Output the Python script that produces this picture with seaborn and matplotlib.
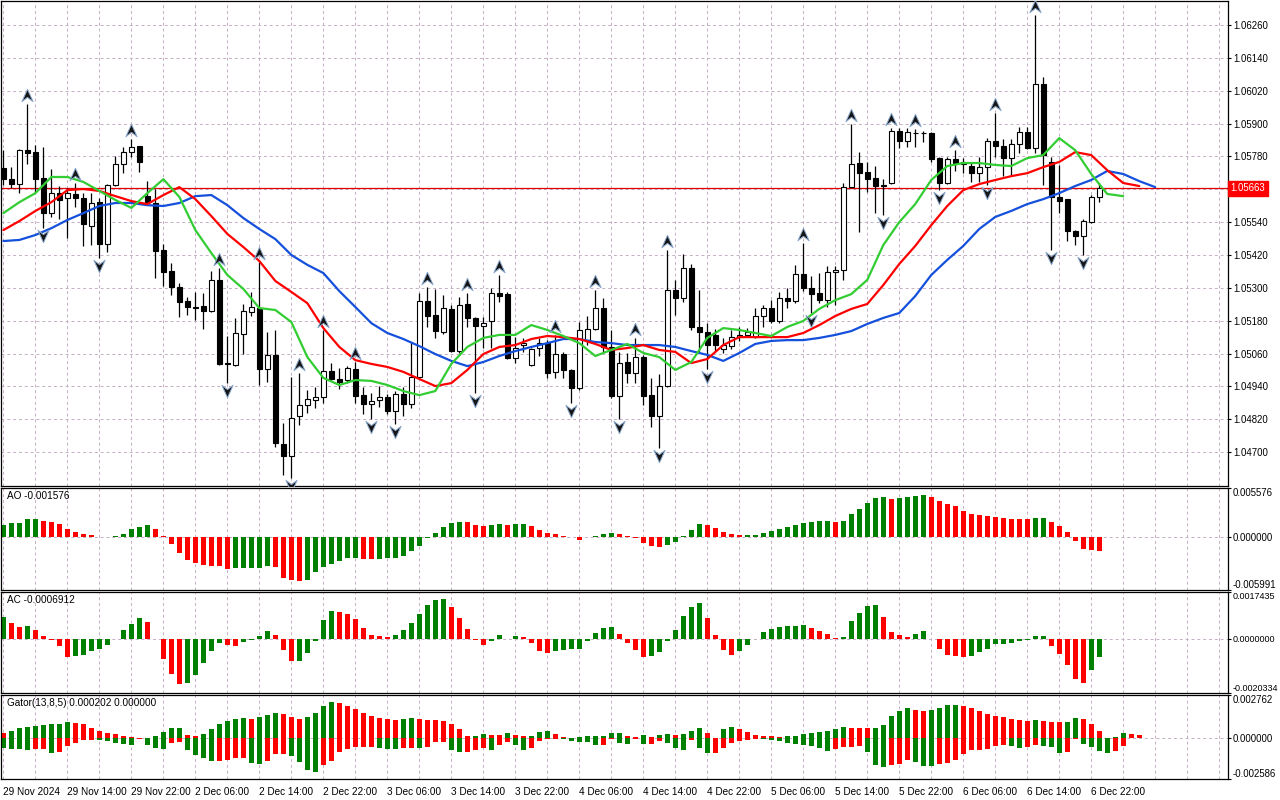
import numpy as np
import pandas as pd
import matplotlib
matplotlib.use("Agg")
import matplotlib.pyplot as plt
from matplotlib.path import Path
import seaborn as sns

# EURUSD H1, 29 Nov 06:00 -> 6 Dec 23:00 (2024)
opens = [1.05738, 1.05697, 1.05679, 1.05803, 1.05796, 1.05701, 1.05573, 1.05646, 1.05628, 1.05643,
         1.05628, 1.05526, 1.05613, 1.05460, 1.05676, 1.05752, 1.05796, 1.05818, 1.05635, 1.05610,
         1.05438, 1.05361, 1.05303, 1.05252, 1.05230, 1.05233, 1.05215, 1.05328, 1.05025, 1.05018,
         1.05131, 1.05212, 1.05226, 1.05003, 1.05055, 1.04729, 1.04686, 1.04832, 1.04872, 1.04890,
         1.04901, 1.04996, 1.04967, 1.04963, 1.05003, 1.04908, 1.04876, 1.04890, 1.04901, 1.04850,
         1.04912, 1.04876, 1.04974, 1.05252, 1.05201, 1.05138, 1.05223, 1.05069, 1.05241, 1.05190,
         1.05160, 1.05179, 1.05281, 1.05277, 1.05044, 1.05091, 1.05018, 1.05080, 1.05098, 1.04992,
         1.05058, 1.05000, 1.04934, 1.05109, 1.05150, 1.05226, 1.05084, 1.04905, 1.05029, 1.04989,
         1.05047, 1.04908, 1.04832, 1.04941, 1.05292, 1.05263, 1.05372, 1.05157, 1.05138, 1.05128,
         1.05076, 1.05087, 1.05120, 1.05128, 1.05120, 1.05197, 1.05226, 1.05179, 1.05263, 1.05252,
         1.05350, 1.05299, 1.05281, 1.05255, 1.05358, 1.05365, 1.05668, 1.05756, 1.05723, 1.05701,
         1.05676, 1.05683, 1.05873, 1.05836, 1.05866, 1.05866, 1.05866, 1.05774, 1.05683, 1.05771,
         1.05760, 1.05745, 1.05719, 1.05741, 1.05836, 1.05818, 1.05774, 1.05825, 1.05869, 1.05811,
         1.06044, 1.05760, 1.05632, 1.05624, 1.05508, 1.05489, 1.05540, 1.05632]
highs = [1.05803, 1.05741, 1.05806, 1.05971, 1.05822, 1.05814, 1.05734, 1.05672, 1.05665, 1.05683,
         1.05646, 1.05646, 1.05628, 1.05678, 1.05781, 1.05814, 1.05844, 1.05820, 1.05690, 1.05661,
         1.05460, 1.05391, 1.05318, 1.05266, 1.05285, 1.05281, 1.05361, 1.05372, 1.05124, 1.05190,
         1.05241, 1.05285, 1.05394, 1.05138, 1.05146, 1.04806, 1.04974, 1.04989, 1.04927, 1.04938,
         1.05146, 1.05025, 1.05007, 1.05014, 1.05029, 1.04938, 1.04916, 1.04941, 1.04912, 1.04923,
         1.04938, 1.05102, 1.05281, 1.05303, 1.05296, 1.05274, 1.05237, 1.05266, 1.05281, 1.05192,
         1.05193, 1.05299, 1.05347, 1.05285, 1.05120, 1.05117, 1.05080, 1.05117, 1.05109, 1.05128,
         1.05066, 1.05003, 1.05175, 1.05197, 1.05292, 1.05263, 1.05146, 1.05065, 1.05062, 1.05117,
         1.05055, 1.04971, 1.04985, 1.05438, 1.05328, 1.05424, 1.05387, 1.05292, 1.05171, 1.05150,
         1.05117, 1.05146, 1.05157, 1.05153, 1.05226, 1.05237, 1.05255, 1.05285, 1.05299, 1.05383,
         1.05464, 1.05343, 1.05354, 1.05380, 1.05380, 1.05683, 1.05898, 1.05796, 1.05760, 1.05745,
         1.05697, 1.05884, 1.05884, 1.05884, 1.05880, 1.05873, 1.05868, 1.05778, 1.05778, 1.05803,
         1.05774, 1.05760, 1.05778, 1.05847, 1.05939, 1.05844, 1.05844, 1.05887, 1.05887, 1.06297,
         1.06070, 1.05778, 1.05749, 1.05626, 1.05510, 1.05551, 1.05639, 1.05683]
lows = [1.05676, 1.05665, 1.05646, 1.05752, 1.05650, 1.05518, 1.05559, 1.05551, 1.05482, 1.05595,
        1.05453, 1.05456, 1.05409, 1.05431, 1.05672, 1.05719, 1.05778, 1.05723, 1.05602, 1.05336,
        1.05307, 1.05274, 1.05193, 1.05201, 1.05182, 1.05150, 1.05212, 1.05018, 1.04952, 1.05015,
        1.05058, 1.05197, 1.04945, 1.04956, 1.04718, 1.04616, 1.04605, 1.04799, 1.04843, 1.04861,
        1.04879, 1.04963, 1.04930, 1.04952, 1.04879, 1.04839, 1.04821, 1.04865, 1.04839, 1.04802,
        1.04832, 1.04861, 1.04970, 1.05157, 1.05117, 1.05131, 1.05065, 1.05062, 1.05157, 1.04916,
        1.05080, 1.05080, 1.05248, 1.05040, 1.05025, 1.05065, 1.05015, 1.05051, 1.04971, 1.04971,
        1.04971, 1.04879, 1.04927, 1.05091, 1.05146, 1.05065, 1.04897, 1.04821, 1.04952, 1.04952,
        1.04872, 1.04792, 1.04715, 1.04938, 1.05201, 1.05248, 1.05146, 1.05065, 1.05003, 1.05069,
        1.05062, 1.05076, 1.05106, 1.05120, 1.05118, 1.05157, 1.05171, 1.05171, 1.05226, 1.05244,
        1.05288, 1.05208, 1.05244, 1.05230, 1.05237, 1.05328, 1.05665, 1.05504, 1.05650, 1.05573,
        1.05566, 1.05680, 1.05811, 1.05814, 1.05814, 1.05833, 1.05760, 1.05657, 1.05680, 1.05727,
        1.05719, 1.05687, 1.05687, 1.05676, 1.05778, 1.05708, 1.05712, 1.05792, 1.05807, 1.05792,
        1.05676, 1.05438, 1.05573, 1.05471, 1.05456, 1.05420, 1.05537, 1.05613]
closes = [1.05697, 1.05679, 1.05803, 1.05792, 1.05697, 1.05573, 1.05646, 1.05621, 1.05646, 1.05628,
          1.05533, 1.05610, 1.05460, 1.05676, 1.05752, 1.05796, 1.05814, 1.05760, 1.05613, 1.05434,
          1.05358, 1.05303, 1.05248, 1.05230, 1.05228, 1.05215, 1.05328, 1.05022, 1.05022, 1.05135,
          1.05215, 1.05230, 1.05003, 1.05055, 1.04733, 1.04686, 1.04824, 1.04872, 1.04894, 1.04901,
          1.04996, 1.04967, 1.04956, 1.05007, 1.04905, 1.04876, 1.04887, 1.04901, 1.04850, 1.04912,
          1.04876, 1.04974, 1.05252, 1.05197, 1.05142, 1.05226, 1.05069, 1.05237, 1.05190, 1.05160,
          1.05171, 1.05281, 1.05270, 1.05044, 1.05080, 1.05098, 1.05076, 1.05098, 1.04989, 1.05058,
          1.05000, 1.04934, 1.05146, 1.05150, 1.05226, 1.05084, 1.04905, 1.05025, 1.04989, 1.05047,
          1.04905, 1.04832, 1.04941, 1.05292, 1.05263, 1.05372, 1.05157, 1.05138, 1.05091, 1.05091,
          1.05091, 1.05120, 1.05128, 1.05138, 1.05197, 1.05226, 1.05179, 1.05263, 1.05252, 1.05350,
          1.05299, 1.05277, 1.05255, 1.05358, 1.05365, 1.05668, 1.05752, 1.05719, 1.05697, 1.05672,
          1.05673, 1.05873, 1.05836, 1.05869, 1.05865, 1.05866, 1.05771, 1.05683, 1.05771, 1.05756,
          1.05754, 1.05719, 1.05741, 1.05836, 1.05818, 1.05774, 1.05825, 1.05869, 1.05811, 1.06044,
          1.05785, 1.05632, 1.05617, 1.05508, 1.05489, 1.05544, 1.05632, 1.05663]

time_labels = ["29 Nov 2024", "29 Nov 14:00", "29 Nov 22:00", "2 Dec 06:00", "2 Dec 14:00",
               "2 Dec 22:00", "3 Dec 06:00", "3 Dec 14:00", "3 Dec 22:00", "4 Dec 06:00",
               "4 Dec 14:00", "4 Dec 22:00", "5 Dec 06:00", "5 Dec 14:00", "5 Dec 22:00",
               "6 Dec 06:00", "6 Dec 14:00", "6 Dec 22:00"]

# Alligator, read every second bar (lines already shifted forward)
lips = [1.05573, 1.05613, 1.05646, 1.05705, 1.05705, 1.05687, 1.05654, 1.05621, 1.05592, 1.05646,
        1.05697, 1.05632, 1.05511, 1.05427, 1.05347, 1.05296, 1.05226, 1.05219, 1.05175, 1.05047,
        1.04971, 1.04945, 1.04963, 1.04960, 1.04945, 1.04923, 1.04908, 1.04923, 1.05022, 1.05084,
        1.05117, 1.05128, 1.05128, 1.05164, 1.05146, 1.05124, 1.05098, 1.05051, 1.05073, 1.05095,
        1.05062, 1.05047, 1.05000, 1.05029, 1.05117, 1.05153, 1.05146, 1.05135, 1.05124, 1.05157,
        1.05179, 1.05223, 1.05255, 1.05277, 1.05329, 1.05456, 1.05540, 1.05606, 1.05694, 1.05745,
        1.05756, 1.05756, 1.05749, 1.05745, 1.05774, 1.05785, 1.05847, 1.05803, 1.05716, 1.05643,
        1.05635]
teeth = [1.05511, 1.05544, 1.05581, 1.05613, 1.05657, 1.05661, 1.05654, 1.05635, 1.05617, 1.05606,
         1.05639, 1.05668, 1.05624, 1.05562, 1.05497, 1.05449, 1.05398, 1.05325, 1.05285, 1.05244,
         1.05153, 1.05084, 1.05036, 1.05022, 1.05011, 1.04993, 1.04967, 1.04941, 1.04952, 1.05000,
         1.05058, 1.05084, 1.05091, 1.05113, 1.05124, 1.05120, 1.05113, 1.05095, 1.05073, 1.05080,
         1.05091, 1.05073, 1.05066, 1.05025, 1.05040, 1.05091, 1.05120, 1.05120, 1.05120, 1.05120,
         1.05135, 1.05164, 1.05197, 1.05223, 1.05241, 1.05310, 1.05387, 1.05453, 1.05529, 1.05599,
         1.05657, 1.05679, 1.05694, 1.05708, 1.05719, 1.05741, 1.05760, 1.05796, 1.05785, 1.05730,
         1.05683, 1.05672]
jaw = [1.05471, 1.05475, 1.05493, 1.05518, 1.05548, 1.05573, 1.05599, 1.05610, 1.05610, 1.05602,
       1.05599, 1.05610, 1.05635, 1.05639, 1.05602, 1.05555, 1.05515, 1.05478, 1.05420, 1.05384,
       1.05354, 1.05288, 1.05230, 1.05171, 1.05135, 1.05113, 1.05087, 1.05058, 1.05033, 1.05014,
       1.05029, 1.05051, 1.05069, 1.05084, 1.05098, 1.05113, 1.05113, 1.05102, 1.05098, 1.05091,
       1.05091, 1.05091, 1.05084, 1.05069, 1.05055, 1.05033, 1.05062, 1.05095, 1.05106, 1.05109,
       1.05109, 1.05117, 1.05128, 1.05142, 1.05168, 1.05190, 1.05208, 1.05270, 1.05347, 1.05402,
       1.05453, 1.05515, 1.05559, 1.05581, 1.05606, 1.05624, 1.05646, 1.05672, 1.05694, 1.05727,
       1.05716, 1.05690, 1.05668]

frac_up = [3, 9, 16, 27, 32, 37, 40, 44, 53, 58, 62, 69, 74, 79, 83, 100, 106, 111, 114, 119, 124, 129]
frac_dn = [5, 12, 28, 36, 46, 49, 59, 71, 77, 82, 88, 101, 110, 117, 123, 131, 135]

ao = [0.00141, 0.00157, 0.00164, 0.00202, 0.00205, 0.00187, 0.00176, 0.00153, 0.00096, 0.00061,
      0.00038, 0.00027, 0.00004, 0.00002, 0.00008, 0.00038, 0.00088, 0.00118, 0.00141, 0.00088,
      0.00015, -0.00073, -0.00176, -0.00256, -0.00290, -0.00317, -0.00329, -0.00330, -0.00356, -0.00355,
      -0.00354, -0.00353, -0.00351, -0.00329, -0.00340, -0.00466, -0.00485, -0.00500, -0.00489, -0.00397,
      -0.00340, -0.00302, -0.00271, -0.00240, -0.00237, -0.00245, -0.00246, -0.00243, -0.00233, -0.00232,
      -0.00210, -0.00153, -0.00096, -0.00015, 0.00050, 0.00118, 0.00164, 0.00176, 0.00175, 0.00141,
      0.00130, 0.00141, 0.00153, 0.00141, 0.00154, 0.00155, 0.00130, 0.00084, 0.00050, 0.00038,
      0.00015, 0.00004, -0.00027, 0.00002, 0.00015, 0.00038, 0.00050, 0.00038, 0.00015, -0.00015,
      -0.00061, -0.00096, -0.00107, -0.00084, -0.00050, 0.00015, 0.00084, 0.00153, 0.00141, 0.00107,
      0.00061, 0.00038, 0.00027, 0.00028, 0.00029, 0.00050, 0.00073, 0.00096, 0.00118, 0.00141,
      0.00164, 0.00176, 0.00187, 0.00188, 0.00176, 0.00187, 0.00267, 0.00325, 0.00393, 0.00439,
      0.00451, 0.00428, 0.00439, 0.00452, 0.00462, 0.00474, 0.00451, 0.00405, 0.00371, 0.00348,
      0.00302, 0.00267, 0.00256, 0.00244, 0.00233, 0.00222, 0.00210, 0.00209, 0.00208, 0.00222,
      0.00223, 0.00176, 0.00130, 0.00061, -0.00038, -0.00130, -0.00141, -0.001576]
ac = [0.00079, 0.00060, 0.00043, 0.00047, 0.00032, 0.00009, -0.00006, -0.00029, -0.00067, -0.00066,
      -0.00060, -0.00048, -0.00037, -0.00025, -0.00003, 0.00032, 0.00055, 0.00078, 0.00062, -0.00002,
      -0.00075, -0.00131, -0.00170, -0.00165, -0.00136, -0.00093, -0.00045, -0.00017, -0.00025, -0.00026,
      -0.00013, -0.00005, 0.00010, 0.00029, 0.00013, -0.00041, -0.00083, -0.00082, -0.00055, -0.00009,
      0.00070, 0.00104, 0.00100, 0.00093, 0.00074, 0.00039, 0.00013, 0.00009, 0.00005, 0.00013,
      0.00032, 0.00059, 0.00093, 0.00127, 0.00146, 0.00147, 0.00120, 0.00078, 0.00036, -0.00006,
      -0.00022, -0.00009, 0.00013, -0.00001, 0.00009, 0.00005, -0.00018, -0.00047, -0.00055, -0.00047,
      -0.00043, -0.00039, -0.00037, -0.00009, 0.00020, 0.00039, 0.00043, 0.00017, -0.00017, -0.00043,
      -0.00067, -0.00066, -0.00051, -0.00009, 0.00032, 0.00085, 0.00120, 0.00135, 0.00078, 0.00013,
      -0.00043, -0.00062, -0.00047, -0.00024, -0.00001, 0.00024, 0.00036, 0.00043, 0.00047, 0.00048,
      0.00051, 0.00039, 0.00028, 0.00017, 0.00001, 0.00005, 0.00066, 0.00097, 0.00123, 0.00127,
      0.00081, 0.00024, 0.00013, 0.00005, 0.00017, 0.00028, -0.00001, -0.00037, -0.00060, -0.00064,
      -0.00067, -0.00066, -0.00051, -0.00039, -0.00020, -0.00019, -0.00017, -0.00009, -0.00005, 0.00009,
      0.00010, -0.00028, -0.00059, -0.00097, -0.00150, -0.00165, -0.00116, -0.0006912]
# Gator histograms are drawn 5 bars ahead of price
gator_up = [0.00032, 0.00045, 0.00064, 0.00070, 0.00076, 0.00083, 0.00089, 0.00090, 0.00102, 0.00100,
            0.00089, 0.00064, 0.00045, 0.00032, 0.00025, 0.00013, 0.00006, 0.00002, 0.00001, 0.00013,
            0.00038, 0.00064, 0.00065, 0.00019, 0.00018, 0.00025, 0.00057, 0.00089, 0.00108, 0.00121,
            0.00127, 0.00121, 0.00134, 0.00146, 0.00159, 0.00158, 0.00134, 0.00121, 0.00134, 0.00159,
            0.00204, 0.00229, 0.00223, 0.00204, 0.00185, 0.00159, 0.00140, 0.00127, 0.00121, 0.00120,
            0.00122, 0.00127, 0.00121, 0.00120, 0.00115, 0.00108, 0.00089, 0.00057, 0.00013, 0.00014,
            0.00025, 0.00024, 0.00023, 0.00032, 0.00019, 0.00013, 0.00014, 0.00038, 0.00045, 0.00025,
            0.00006, 0.00001, 0.00006, 0.00013, 0.00014, 0.00015, 0.00032, 0.00033, 0.00013, 0.00006,
            0.00019, 0.00006, 0.00019, 0.00025, 0.00024, 0.00025, 0.00045, 0.00064, 0.00032, 0.00001,
            0.00057, 0.00070, 0.00057, 0.00038, 0.00019, 0.00013, 0.00012, 0.00006, 0.00013, 0.00014,
            0.00025, 0.00032, 0.00038, 0.00045, 0.00057, 0.00070, 0.00069, 0.00068, 0.00064, 0.00065,
            0.00083, 0.00140, 0.00172, 0.00191, 0.00178, 0.00172, 0.00178, 0.00191, 0.00210, 0.00211,
            0.00204, 0.00191, 0.00172, 0.00153, 0.00140, 0.00134, 0.00121, 0.00115, 0.00108, 0.00115,
            0.00108, 0.00107, 0.00102, 0.00103, 0.00127, 0.00126, 0.00089, 0.00045, 0.00004, 0.00006,
            0.00032, 0.00025, 0.000202]
gator_dn = [-0.00064, -0.00065, -0.00070, -0.00076, -0.00070, -0.00069, -0.00095, -0.00089, -0.00051, -0.00032,
            -0.00013, -0.00008, -0.00013, -0.00019, -0.00032, -0.00038, -0.00039, -0.00001, -0.00045, -0.00064,
            -0.00065, -0.00032, -0.00025, -0.00076, -0.00108, -0.00127, -0.00146, -0.00145, -0.00140, -0.00127,
            -0.00126, -0.00159, -0.00166, -0.00146, -0.00102, -0.00101, -0.00115, -0.00153, -0.00204, -0.00216,
            -0.00172, -0.00146, -0.00089, -0.00070, -0.00057, -0.00056, -0.00055, -0.00064, -0.00065, -0.00070,
            -0.00064, -0.00063, -0.00064, -0.00057, -0.00025, -0.00024, -0.00076, -0.00089, -0.00088, -0.00076,
            -0.00064, -0.00076, -0.00045, -0.00025, -0.00045, -0.00076, -0.00064, -0.00019, -0.00006, -0.00001,
            -0.00006, -0.00019, -0.00025, -0.00026, -0.00045, -0.00044, -0.00006, -0.00032, -0.00038, -0.00006,
            -0.00038, -0.00037, -0.00019, -0.00032, -0.00064, -0.00076, -0.00013, -0.00064, -0.00095, -0.00094,
            -0.00064, -0.00032, -0.00019, -0.00013, -0.00004, -0.00006, -0.00011, -0.00019, -0.00032, -0.00038,
            -0.00045, -0.00051, -0.00064, -0.00083, -0.00070, -0.00057, -0.00056, -0.00051, -0.00089, -0.00172,
            -0.00185, -0.00171, -0.00166, -0.00140, -0.00153, -0.00178, -0.00179, -0.00166, -0.00159, -0.00140,
            -0.00102, -0.00076, -0.00075, -0.00070, -0.00051, -0.00045, -0.00046, -0.00064, -0.00057, -0.00045,
            -0.00051, -0.00057, -0.00095, -0.00089, -0.00004, -0.00038, -0.00057, -0.00083, -0.00095, -0.00083,
            -0.00049]

price_ticks = [1.04700, 1.04820, 1.04940, 1.05060, 1.05180, 1.05300, 1.05420, 1.05540,
               1.05660, 1.05780, 1.05900, 1.06020, 1.06140, 1.06260]
price_lim = (1.04576, 1.06348)
ao_lim = (-0.005991, 0.005576)
ac_lim = (-0.0020334, 0.0017435)
gator_lim = (-0.002586, 0.002762)

GREEN, RED = "#008000", "#ff0000"
GRID = "#c4aec4"
FS = 7.2      # titles, time axis
FS_Y = 6.9    # value axis

sns.set_theme(style="white", rc={"axes.edgecolor": "black", "axes.linewidth": 0.9})
plt.rcParams["font.family"] = ["Liberation Sans", "DejaVu Sans"]

W, H = 1280, 800
fig = plt.figure(figsize=(W / 100, H / 100), dpi=100)


def panel(top, bottom, left=1, right=1228):
    return fig.add_axes([left / W, 1 - bottom / H, (right - left) / W, (bottom - top) / H])


ax = panel(1, 486)
ao_ax = panel(488, 590)
ac_ax = panel(592, 693)
gt_ax = panel(695, 779)

n = len(opens)
bars = pd.DataFrame({"o": opens, "h": highs, "l": lows, "c": closes})
bars["i"] = np.arange(n)
bull = bars.c >= bars.o

# candles
ax.vlines(bars.i, bars.l, bars.h, color="black", lw=0.9, zorder=2)
body_lo = bars[["o", "c"]].min(axis=1)
body_h = (bars.c - bars.o).abs().clip(lower=0.000015)
ax.bar(bars.i, body_h, bottom=body_lo, width=0.62, color=np.where(bull, "white", "black"),
       edgecolor="black", linewidth=0.8, zorder=3)

# alligator
for vals, col in ((jaw, "#1450dc"), (teeth, "#ff0000"), (lips, "#32cd32")):
    xs = np.arange(len(vals)) * 2
    sns.lineplot(x=xs, y=vals, color=col, lw=1.6, ax=ax, zorder=4)

ax.axhline(closes[-1], color="#e00000", lw=0.9, zorder=1.8)

# fractals
up_mark = Path([(0, 0.5), (0.45, -0.5), (0, -0.15), (-0.45, -0.5), (0, 0.5)],
               [Path.MOVETO, Path.LINETO, Path.LINETO, Path.LINETO, Path.CLOSEPOLY])
dn_mark = Path([(0, -0.5), (0.45, 0.5), (0, 0.15), (-0.45, 0.5), (0, -0.5)],
               [Path.MOVETO, Path.LINETO, Path.LINETO, Path.LINETO, Path.CLOSEPOLY])
px = (price_lim[1] - price_lim[0]) / 485
ax.scatter(frac_up, bars.h.values[frac_up] + 9 * px, marker=up_mark, s=80, c="#151515",
           edgecolors="#8aa8cc", linewidths=0.7, zorder=5)
ax.scatter(frac_dn, bars.l.values[frac_dn] - 8 * px, marker=dn_mark, s=80, c="#151515",
           edgecolors="#8aa8cc", linewidths=0.7, zorder=5)


def hist(axh, vals, first_up, magnitude=False):
    v = np.asarray(vals)
    m = np.abs(v) if magnitude else v
    rising = np.r_[first_up, m[1:] > m[:-1]]
    df = pd.DataFrame({"x": np.arange(len(v)), "v": v, "dir": np.where(rising, "up", "down")})
    sns.barplot(data=df, x="x", y="v", hue="dir", hue_order=["up", "down"],
                palette={"up": GREEN, "down": RED}, native_scale=True, dodge=False,
                width=0.6, errorbar=None, legend=False, linewidth=0, saturation=1, ax=axh)


hist(ao_ax, ao, True)
hist(ac_ax, ac, True)
hist(gt_ax, gator_up, False)
hist(gt_ax, gator_dn, True, magnitude=True)


def style(axp, lim, ticks, labels, edge_labels=True, size=FS_Y):
    axp.set_xlim(-0.3, 153.1)
    axp.set_ylim(*lim)
    axp.set_xlabel("")
    axp.set_ylabel("")
    axp.set_yticks(ticks, labels)
    axp.yaxis.tick_right()
    axp.tick_params(axis="y", length=2.5, width=0.8, pad=1, labelsize=size, colors="black")
    axp.set_xticks(np.arange(0, n, 8))
    axp.set_xticks(np.arange(4, 153, 4), minor=True)
    axp.tick_params(axis="x", which="both", length=0, labelbottom=False)
    axp.grid(True, axis="x", which="both", ls=(0, (3, 3)), color=GRID, lw=0.7)
    axp.grid(True, axis="y", which="major", ls=(0, (3, 3)), color=GRID, lw=0.7)
    axp.set_axisbelow(True)
    for s in axp.spines.values():
        s.set_color("black")
        s.set_linewidth(0.9)
    if edge_labels:
        labs = axp.get_yticklabels()
        labs[0].set_va("bottom")
        labs[-1].set_va("top")


style(ax, price_lim, price_ticks,
      ["" if abs(p - 1.05660) < 1e-6 else f"{p:.5f}" for p in price_ticks], edge_labels=False)
style(ao_ax, ao_lim, [ao_lim[0], 0, ao_lim[1]], [f"{ao_lim[0]:.6f}", "0.000000", f"{ao_lim[1]:.6f}"])
style(ac_ax, ac_lim, [ac_lim[0], 0, ac_lim[1]], [f"{ac_lim[0]:.7f}", "0.0000000", f"{ac_lim[1]:.7f}"],
      size=6.5)
style(gt_ax, gator_lim, [gator_lim[0], 0, gator_lim[1]],
      [f"{gator_lim[0]:.6f}", "0.000000", f"{gator_lim[1]:.6f}"])

gt_ax.set_xticks(np.arange(0, n, 8), time_labels)
gt_ax.tick_params(axis="x", which="major", length=4, width=0.8, labelbottom=True, pad=2,
                  labelsize=FS, colors="black")
for lab in gt_ax.get_xticklabels():
    lab.set_ha("left")

# current bid label
ax.annotate(f"{closes[-1]:.5f}", xy=(1, closes[-1]), xycoords=("axes fraction", "data"),
            xytext=(2, 0), textcoords="offset points", va="center", ha="left", color="white",
            fontsize=FS_Y, annotation_clip=False,
            bbox=dict(boxstyle="square,pad=0.3", fc="#ff0000", ec="#ff0000"))

for axp, title in ((ao_ax, f"AO {ao[-1]:.6f}"), (ac_ax, f"AC {ac[-1]:.7f}"),
                   (gt_ax, f"Gator(13,8,5) {gator_up[-1]:.6f} {0.0:.6f}")):
    axp.annotate(title, xy=(0, 1), xycoords="axes fraction", xytext=(4, -2.5),
                 textcoords="offset points", va="top", ha="left", fontsize=FS, color="black")

fig.savefig("out.png", dpi=100)
